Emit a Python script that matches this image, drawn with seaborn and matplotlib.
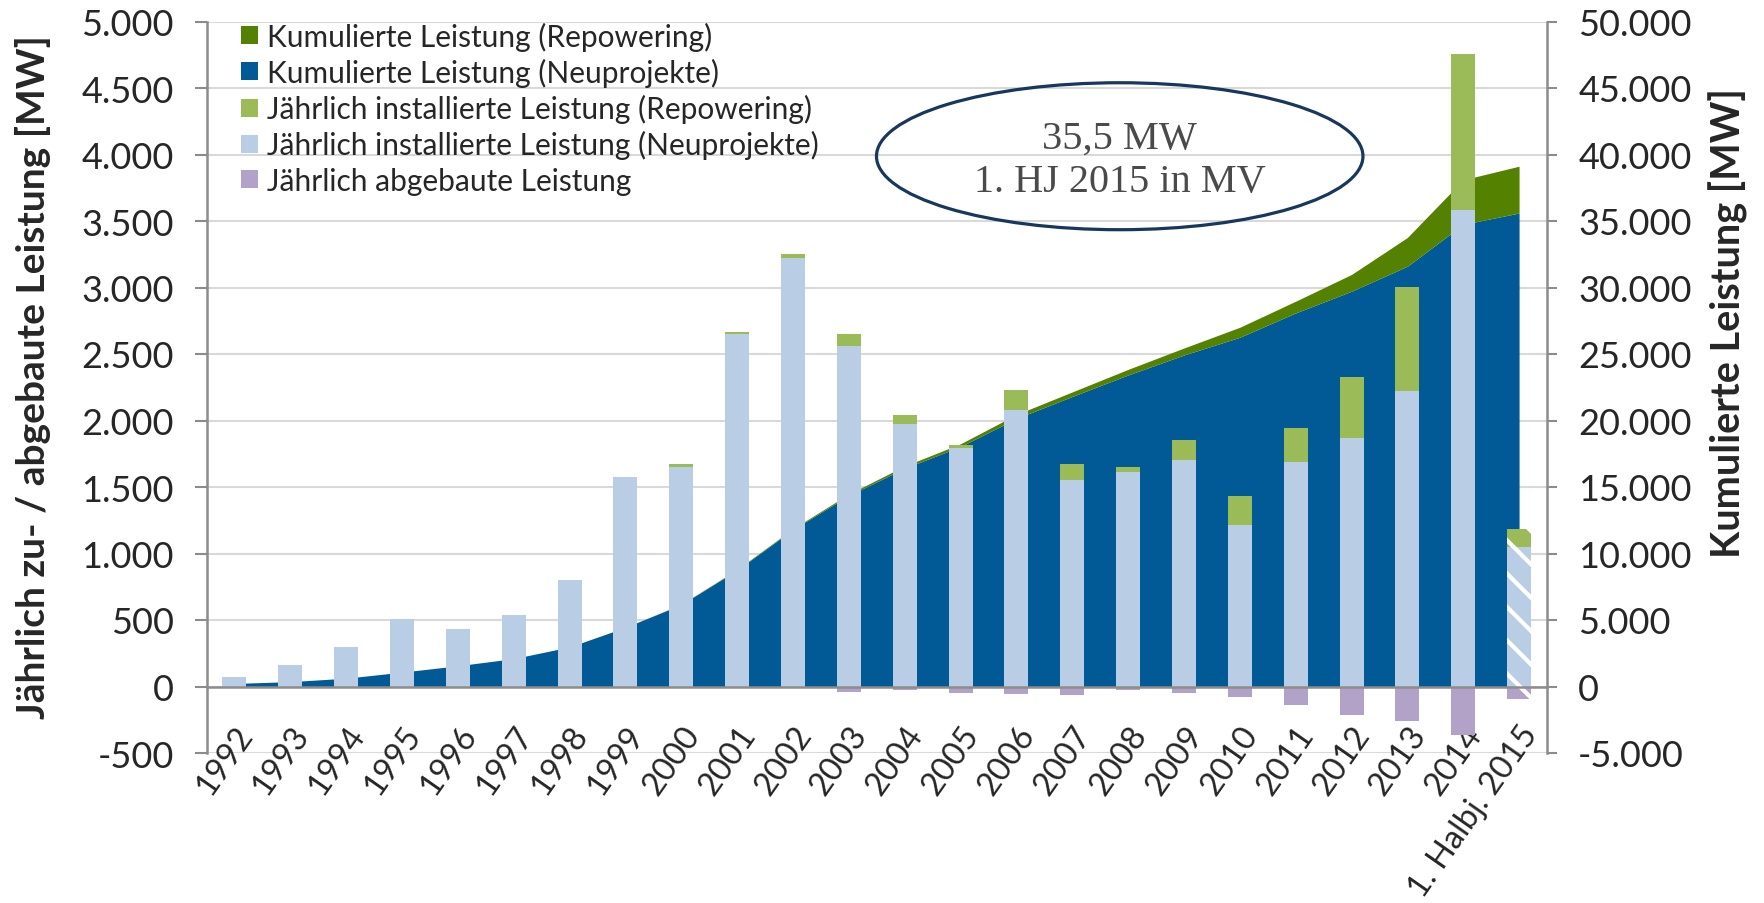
import numpy as np
import pandas as pd
import matplotlib
matplotlib.use("Agg")
import matplotlib.pyplot as plt
import seaborn as sns
from matplotlib.patches import Ellipse
from matplotlib.ticker import FuncFormatter, MultipleLocator

# Daten
jahre = [str(j) for j in range(1992, 2015)] + ["1. Halbj. 2015"]
neu_jahr = [75, 158, 299, 510, 433, 540, 799, 1572, 1651, 2648, 3224, 2560,
            1976, 1791, 2082, 1553, 1616, 1704, 1214, 1691, 1867, 2219, 3586, 1051]
rep_jahr = [0, 0, 0, 0, 0, 0, 0, 0, 25, 17, 26, 88,
            65, 22, 150, 118, 37, 150, 218, 256, 457, 784, 1166, 130]
abgebaut = [0, 0, -3, 0, 0, 0, 0, 0, 0, 0, -8, -42,
            -30, -48, -55, -63, -30, -48, -76, -137, -214, -262, -366, -96]
neu_kum = [230, 365, 625, 1080, 1560, 2100, 2975, 4450, 6160, 8760, 11805, 14365,
           16410, 18050, 20150, 21810, 23425, 24925, 26260, 28090, 29720, 31600, 34750, 35600]
rep_kum = [0, 0, 0, 0, 0, 0, 0, 0, 20, 40, 60, 110,
           170, 200, 300, 340, 420, 525, 750, 880, 1260, 2160, 3350, 3520]

DUNKELGRUEN = "#548200"
DUNKELBLAU = "#015A96"
HELLGRUEN = "#9BBB59"
HELLBLAU = "#B9CDE5"
LILA = "#B3A2C7"
GRAU = "#8C8C8C"
GRID = "#D9D9D9"

sns.set_style("white")
plt.rcParams["font.family"] = ["Lato", "DejaVu Sans"]
plt.rcParams["hatch.linewidth"] = 3

df = pd.DataFrame({"jahr": jahre, "neu": neu_jahr, "rep": rep_jahr, "ab": abgebaut})
df["gesamt"] = df["neu"] + df["rep"]
x = np.arange(len(jahre))

fig = plt.figure(figsize=(17.64, 9.04), dpi=100)
ax = fig.add_axes([206.5 / 1764, 1 - 754 / 904, (1547 - 206.5) / 1764, (754 - 22.5) / 904])
ax2 = ax.twinx()
ax.set_zorder(2)
ax2.set_zorder(1)
ax.patch.set_visible(False)

# kumulierte Leistung als Flaeche (rechte Achse)
flaechen = ax2.stackplot(x, neu_kum, rep_kum, colors=[DUNKELBLAU, DUNKELGRUEN], linewidth=0)

# jaehrliche Leistung als Balken (linke Achse)
conts = []
for spalte, farbe in [("gesamt", HELLGRUEN), ("neu", HELLBLAU), ("ab", LILA)]:
    sns.barplot(data=df, x="jahr", y=spalte, color=farbe, width=0.43, saturation=1,
                errorbar=None, linewidth=0, ax=ax)
    c = ax.containers[-1]
    letzter = c.patches[-1]
    letzter.set_hatch("\\")
    letzter.set_edgecolor("white")
    letzter.set_linewidth(0)
    conts.append(c)

ax.set_xlabel("")
ax.set_ylabel("")
ax.set_xlim(-0.5, len(jahre) - 0.5)

de_fmt = FuncFormatter(lambda v, p: f"{v:,.0f}".replace(",", "."))

ax.set_ylim(-500, 5000)
ax.yaxis.set_major_locator(MultipleLocator(500))
ax.yaxis.set_major_formatter(de_fmt)
ax2.set_ylim(-5000, 50000)
ax2.yaxis.set_major_locator(MultipleLocator(5000))
ax2.yaxis.set_major_formatter(de_fmt)

ax2.set_axisbelow(True)
ax2.yaxis.grid(True, color=GRID, linewidth=1.5)
ax.grid(False)

for s in ["top", "right"]:
    ax.spines[s].set_visible(False)
for s in ["top", "left", "bottom"]:
    ax2.spines[s].set_visible(False)
ax.spines["left"].set_color(GRAU)
ax.spines["left"].set_linewidth(1.8)
ax.spines["bottom"].set_position(("data", 0))
ax.spines["bottom"].set_color(GRAU)
ax.spines["bottom"].set_linewidth(1.8)
ax2.spines["right"].set_color(GRAU)
ax2.spines["right"].set_linewidth(1.8)

ax.tick_params(axis="y", direction="out", length=8.5, width=1.5, color=GRAU,
               labelsize=26, pad=15)
ax2.tick_params(axis="y", direction="out", length=7.5, width=1.5, color=GRAU,
                labelsize=26, pad=15)

ax.set_xticks(x)
ax.set_xticklabels(jahre)
ax.set_xticks(x[:-1] + 0.5, minor=True)
ax.tick_params(axis="x", which="major", length=0, pad=24, labelsize=23.5, labelrotation=55)
ax.tick_params(axis="x", which="minor", direction="out", length=8, width=1.5, color=GRAU)
for lbl in ax.get_xticklabels():
    lbl.set_ha("right")
    lbl.set_rotation_mode("anchor")

# Hinweis-Ellipse
ax.add_patch(Ellipse((15.85, 3987), width=8.71, height=1105, fill=False,
                     edgecolor="#17375E", linewidth=2.3, zorder=6))
ax.text(15.85, 3960, "35,5 MW\n1. HJ 2015 in MV", ha="center", va="center",
        fontsize=29, family="Liberation Serif", color="#4A4A4A", linespacing=1.22, zorder=7)

handles = [flaechen[1], flaechen[0], conts[0], conts[1], conts[2]]
labels = ["Kumulierte Leistung (Repowering)", "Kumulierte Leistung (Neuprojekte)",
          "Jährlich installierte Leistung (Repowering)",
          "Jährlich installierte Leistung (Neuprojekte)", "Jährlich abgebaute Leistung"]
ax.legend(handles, labels, loc="upper left", bbox_to_anchor=(0.026, 1.0), frameon=False,
          fontsize=21.5, handlelength=0.55, handleheight=0.55, handletextpad=0.3,
          labelspacing=0.24, borderpad=0, borderaxespad=0)

fig.text(0.0187, 0.583, "Jährlich zu- / abgebaute Leistung [MW]", rotation=90,
         ha="center", va="center", fontsize=28, fontweight="bold")
fig.text(0.9796, 0.643, "Kumulierte Leistung [MW]", rotation=90,
         ha="center", va="center", fontsize=28.5, fontweight="bold")

fig.savefig("out.png", dpi=100)
